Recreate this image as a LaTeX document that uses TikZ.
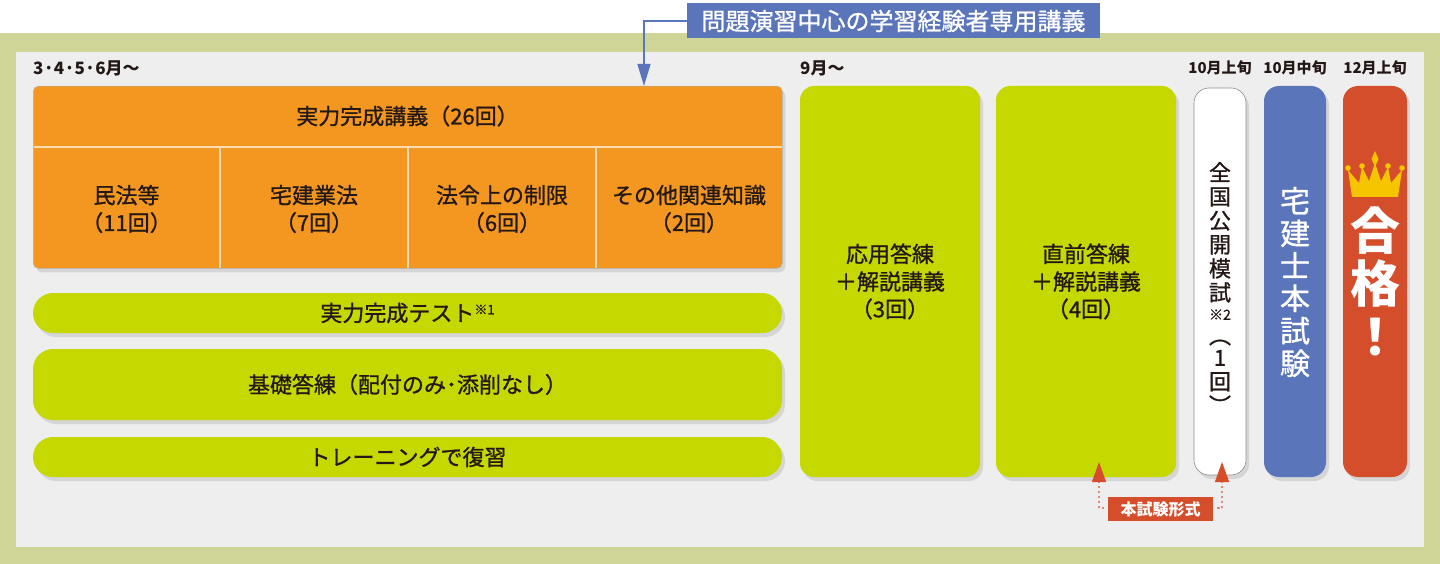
\documentclass[tikz,border=0pt]{standalone}
\usepackage{fontspec}
\setmainfont{Noto Sans CJK JP}
\newfontfamily\jpmed{Noto Sans CJK JP}[FakeBold=1.0]
\usetikzlibrary{shadows,arrows.meta,calc}
\definecolor{outerg}{HTML}{CED596}
\definecolor{panel}{HTML}{EEEEEE}
\definecolor{orng}{HTML}{F39720}
\definecolor{lime}{HTML}{C5D900}
\definecolor{blu}{HTML}{5A75BA}
\definecolor{redd}{HTML}{D44E2C}
\definecolor{gold}{HTML}{F7C400}
\definecolor{ink}{HTML}{231815}
\definecolor{sepc}{HTML}{F9DDB0}
\definecolor{dotc}{HTML}{E28A74}
\tikzset{
  shad/.style={drop shadow={shadow xshift=3pt, shadow yshift=-4pt, opacity=0.22}},
  txt/.style={text=ink, font=\jpmed\fontsize{22}{27.5}\selectfont, align=center, inner sep=0pt},
  lbl/.style={text=ink, font=\bfseries\fontsize{17}{20}\selectfont, inner sep=0pt},
  limebar/.style={fill=lime, shad, rounded corners=20pt, minimum width=749pt, inner sep=0pt,
                  text=ink, font=\jpmed\fontsize{22}{27.5}\selectfont},
  bigbox/.style={fill=lime, shad, rounded corners=14pt, minimum width=180pt, minimum height=391pt,
                 inner sep=0pt, text=ink, align=center, font=\jpmed\fontsize{22}{27.5}\selectfont},
  tallbox/.style={shad, rounded corners=15pt, inner sep=0pt, align=center},
  sepline/.style={draw=sepc, line width=1.2pt},
  conn/.style={draw=blu, line width=1.4pt},
  dotline/.style={draw=dotc, line width=1.3pt, dash pattern=on 2.5pt off 2.5pt},
}
\begin{document}
\begin{tikzpicture}[x=1pt,y=-1pt]
\useasboundingbox (0,0) rectangle (1440,564);
% background
\fill[white] (0,0) rectangle (1440,564);
\fill[outerg] (0,33) rectangle (1440,564);
\fill[panel] (16,52) rectangle (1424,547);

% month labels
\node[lbl, anchor=west] (m1) at (33,68) {3·4·5·6月～};
\node[lbl, anchor=west] (m2) at (800,68) {9月～};
\node[lbl, font=\bfseries\fontsize{15}{18}\selectfont] (m3) at (1220,68) {10月上旬};
\node[lbl, font=\bfseries\fontsize{15}{18}\selectfont] (m4) at (1295,68) {10月中旬};
\node[lbl, font=\bfseries\fontsize{15}{18}\selectfont] (m5) at (1375,68) {12月上旬};

% orange lecture block
\node[fill=orng, draw=black!30, line width=0.5pt, shad, rounded corners=5pt, minimum width=749pt,
      minimum height=182pt, inner sep=0pt, anchor=north west] (lecture) at (33,86) {};
\draw[sepline] (33.5,147) -- (781.5,147);
\draw[sepline] (220,147) -- (220,267.5);
\draw[sepline] (408,147) -- (408,267.5);
\draw[sepline] (596,147) -- (596,267.5);
\node[txt] (head) at (407.5,116) {実力完成講義（26回）};
\node[txt] (c1) at (126.5,209) {民法等\\（11回）};
\node[txt] (c2) at (314,209) {宅建業法\\（7回）};
\node[txt] (c3) at (502,209) {法令上の制限\\（6回）};
\node[txt] (c4) at (689,209) {その他関連知識\\（2回）};

% blue callout
\node[fill=blu, text=white, font=\jpmed\fontsize{24}{28}\selectfont, minimum width=413pt, minimum height=35pt,
      inner sep=0pt] (callout) at (893.5,21) {問題演習中心の学習経験者専用講義};
\coordinate (tgt) at (644,86);
\draw[conn, -{Triangle[width=13pt,length=22pt]}] (callout.west) -| (tgt);

% lime bars
\node[limebar, minimum height=40pt] (test) at (407.5,313) {実力完成テスト\raisebox{7pt}{\fontsize{13}{13}\selectfont ※1}};
\node[limebar, minimum height=71pt] (kiso) at (407.5,384.5) {基礎答練（配付のみ･添削なし）};
\node[limebar, minimum height=40pt] (train) at (407.5,457) {トレーニングで復習};

% big lime boxes
\node[bigbox] (oyo) at (890,281.5) {応用答練\\＋解説講義\\（3回）};
\node[bigbox] (choku) at (1086,281.5) {直前答練\\＋解説講義\\（4回）};

% white mock exam
\node[tallbox, fill=white, draw=black!45, line width=0.6pt, minimum width=52pt, minimum height=387pt] (mock) at (1220,281.5) {};
\node[text=ink, align=center, inner sep=0pt, font=\jpmed\fontsize{22}{24}\selectfont] (mocktxt) at (1220,288)
  {全\\国\\公\\開\\模\\試\\[-5pt]{\fontsize{14}{24}\selectfont ※2}\\︵\\[-2pt]1\\回\\︶};

% blue exam
\node[tallbox, fill=blu, minimum width=62pt, minimum height=391pt] (honshiken) at (1295,281.5) {};
\node[text=white, align=center, inner sep=0pt, font=\jpmed\fontsize{30}{32.5}\selectfont] (hontxt) at (1295,282)
  {宅\\建\\士\\本\\試\\験};

% red pass
\node[tallbox, fill=redd, minimum width=64pt, minimum height=391pt] (pass) at (1375,281.5) {};
\node[text=white, align=center, inner sep=0pt, font=\bfseries\fontsize{50}{53}\selectfont] (passtxt) at (1375,281)
  {合\\格\\！};
% crown
\fill[gold] (1352,197) -- (1348,170) -- (1359,183) -- (1362,167) -- (1369,181) -- (1375,163)
  -- (1381,181) -- (1388,167) -- (1391,183) -- (1402,170) -- (1398,197) -- cycle;
\fill[gold] (1348,168) circle (2.8) (1362,166) circle (2.8) (1388,166) circle (2.8) (1402,168) circle (2.8);
\fill[gold] (1375,151) -- (1378.5,159) -- (1375,167) -- (1371.5,159) -- cycle;

% exam format label
\node[fill=redd, text=white, font=\bfseries\fontsize{16}{18}\selectfont, minimum width=105pt,
      minimum height=24pt, inner sep=0pt] (fmt) at (1160.5,509) {本試験形式};
\coordinate (lfoot) at (1099,508);
\coordinate (rfoot) at (1222,508);
\draw[dotline] ($(lfoot)+(5,0)$) -- (lfoot);
\draw[dotline] ($(rfoot)+(-5,0)$) -- (rfoot);
\draw[dotline, -{Triangle[width=14pt,length=20pt,color=redd]}] (lfoot) -- (lfoot |- 0,462);
\draw[dotline, -{Triangle[width=14pt,length=20pt,color=redd]}] (rfoot) -- (rfoot |- 0,462);
\end{tikzpicture}
\end{document}
